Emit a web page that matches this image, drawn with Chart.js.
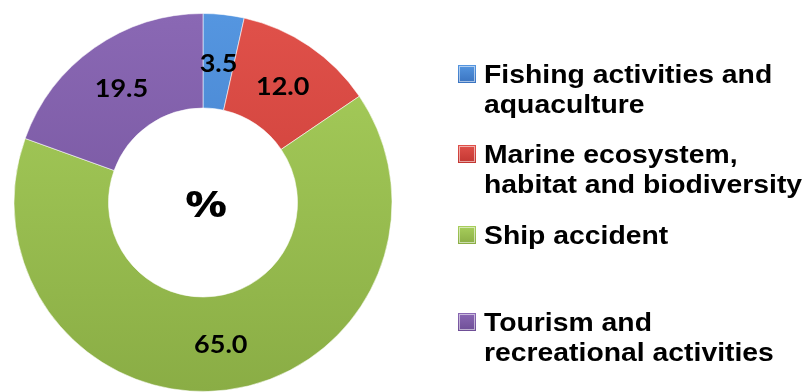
<!DOCTYPE html>
<html>
<head>
<meta charset="utf-8">
<script src="https://cdn.jsdelivr.net/npm/chart.js@4.4.1/dist/chart.umd.min.js"></script>
<style>
  html, body { margin: 0; padding: 0; background: #ffffff; }
  #wrap { width: 811px; height: 392px; position: relative; }
</style>
</head>
<body>
<div id="wrap"><canvas id="c" width="811" height="392"></canvas></div>
<script>
// Share of incidents by category (%)
const categories = [
  ['Fishing activities and', 'aquaculture'],
  ['Marine ecosystem,', 'habitat and biodiversity'],
  ['Ship accident'],
  ['Tourism and', 'recreational activities']
];
const shares = [3.5, 12.0, 65.0, 19.5];
const centerLabel = '%';

// light (top) / dark (bottom) shades per slice
const topShades = ['#5596e0', '#e0514a', '#a8cf5c', '#8a68b4'];
const bottomShades = ['#3a73c0', '#c23631', '#8aad45', '#6e4e96'];

function sliceFill(ctx) {
  const chart = ctx.chart;
  const area = chart.chartArea;
  if (!area) return topShades[ctx.dataIndex];
  const g = chart.ctx.createLinearGradient(0, area.top, 0, area.bottom);
  g.addColorStop(0, topShades[ctx.dataIndex]);
  g.addColorStop(1, bottomShades[ctx.dataIndex]);
  return g;
}

// text drawn slightly widened horizontally
function wideText(ctx, text, x, y, sx) {
  ctx.save();
  ctx.translate(x, y);
  ctx.scale(sx, 1);
  ctx.fillText(text, 0, 0);
  ctx.restore();
}

// value labels on each arc plus the centre caption
const arcLabels = {
  id: 'arcLabels',
  afterDatasetsDraw(chart) {
    const ctx = chart.ctx;
    const meta = chart.getDatasetMeta(0);
    ctx.save();
    ctx.fillStyle = '#000000';
    ctx.textAlign = 'center';
    ctx.textBaseline = 'middle';
    ctx.font = 'bold 25px Lato';
    meta.data.forEach((arc, i) => {
      const p = arc.tooltipPosition();
      wideText(ctx, shares[i].toFixed(1), p.x, p.y + 2, 1.08);
    });
    const a = meta.data[0];
    ctx.font = 'bold 36px "Open Sans"';
    wideText(ctx, centerLabel, a.x + 3, a.y + 4, 1.3);
    ctx.restore();
  }
};

// legend on the right with wrapped labels
const sideLegend = {
  id: 'sideLegend',
  afterDraw(chart) {
    const ctx = chart.ctx;
    const baselines = [83, 163, 244, 331];
    const lineGap = 29.5;
    const boxX = 458, boxSize = 18, textX = 484;
    ctx.save();
    ctx.font = 'bold 26px "Liberation Sans"';
    ctx.textAlign = 'left';
    ctx.textBaseline = 'alphabetic';
    categories.forEach((lines, i) => {
      const by = baselines[i];
      const top = by - boxSize;
      const g = ctx.createLinearGradient(0, top, 0, by);
      g.addColorStop(0, topShades[i]);
      g.addColorStop(1, bottomShades[i]);
      ctx.fillStyle = g;
      ctx.fillRect(boxX, top, boxSize, boxSize);
      ctx.strokeStyle = 'rgba(255,255,255,0.55)';
      ctx.lineWidth = 1;
      ctx.strokeRect(boxX + 1.5, top + 1.5, boxSize - 3, boxSize - 3);
      ctx.fillStyle = '#000000';
      lines.forEach((t, k) => wideText(ctx, t, textX, by + k * lineGap, 1.09));
    });
    ctx.restore();
  }
};

new Chart(document.getElementById('c'), {
  type: 'doughnut',
  data: {
    labels: categories.map(l => l.join(' ')),
    datasets: [{
      data: shares,
      backgroundColor: sliceFill,
      borderColor: 'rgba(255,255,255,0.55)',
      borderWidth: 1
    }]
  },
  options: {
    responsive: false,
    animation: false,
    cutout: '50%',
    layout: { padding: { left: 13, right: 418, top: 13, bottom: 0 } },
    plugins: {
      legend: { display: false },
      tooltip: { enabled: false }
    }
  },
  plugins: [arcLabels, sideLegend]
});
</script>
</body>
</html>
